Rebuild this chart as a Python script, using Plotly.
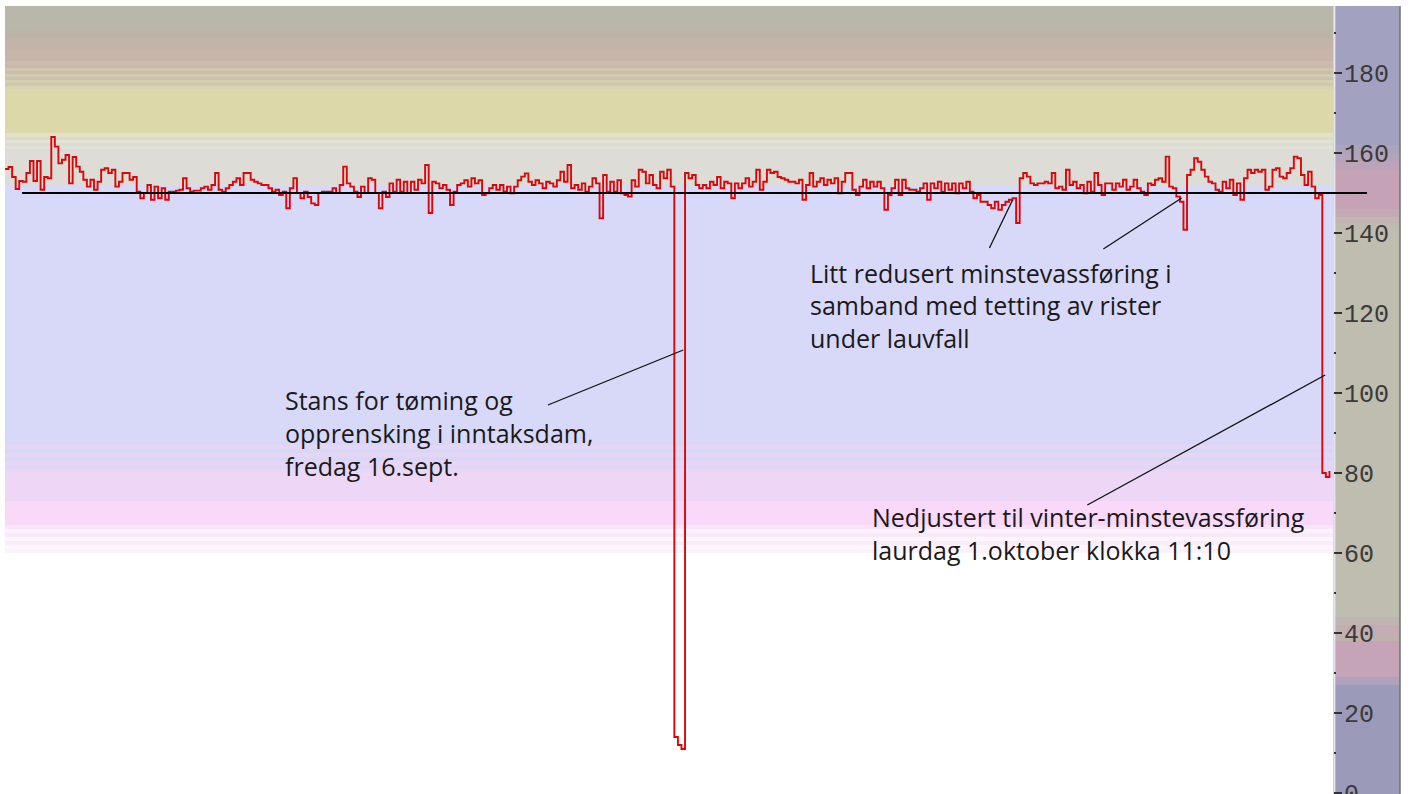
import plotly.graph_objects as go
import pandas as pd

# ---------------- data ----------------
START = pd.Timestamp('2022-08-31 15:10')
STEP_HOURS = 2

flow = [
    # 0-40
    156, 156.5, 154, 151, 153, 152.8, 155, 158, 153, 158, 150.8, 154, 153.7, 164, 161.6, 157.4, 158.3, 159.5, 152.4, 159,
    156.6, 155.3, 153.3, 151.6, 153.3, 150.8, 152.8, 155.8, 156.2, 155, 155.8, 151.6, 152.8, 155, 155, 153.3, 154, 150.3,
    148.7, 150, 152,
    # 41-82
    148.3, 151.6, 148.7, 151.2, 148.3, 150.3, 150.3, 150.6, 150.8, 153.7, 151.2, 150.3, 150.6, 150.6, 151.2, 151.6, 150.8,
    152, 155, 150.8, 150.3, 151.2, 152, 152.8, 153.7, 152, 155, 155, 153.3, 152.8, 152.4, 152, 152, 151.2, 150.3, 150.8,
    149.5, 150.3, 146.2, 151.2, 153.7, 150,
    # 83-124
    148.7, 150.3, 149, 147.4, 147, 150, 150.3, 150.3, 150.3, 151.2, 150, 152, 156.6, 152.4, 151.6, 150.3, 149, 151.6, 150,
    153.7, 153.3, 150, 146.2, 150.3, 149, 152.4, 150.3, 153.3, 150.3, 152.8, 150, 152.8, 150.8, 153.3, 152.4, 157, 145,
    152.8, 152.4, 151.2, 152, 150.8,
    # 125-187
    147, 150.3, 152, 152.4, 153.2, 151.6, 153.7, 152.4, 153.2, 149.5, 149.9, 151.2, 152, 150.8, 152, 150.3, 151.6, 149.9,
    151.6, 153.2, 154.1, 154.9, 152.8, 152, 153.2, 152.4, 151.2, 152.8, 152.4, 151.6, 153.2, 155.3, 152.8, 157, 151.2, 152,
    150.8, 152.4, 150.3, 151.6, 153.7, 152.4, 143.7, 154.5, 150.3, 152.8, 150.3, 153.2, 149.9, 149.5, 149.1, 153.2, 151.6,
    155.8, 155.3, 152.4, 154.5, 152, 151.2, 155.3, 153.7, 155.8, 151.6,
    # 188-190 (stop, 16 Sept)
    14, 12, 11,
    # 191-292
    155, 153.7, 154.5, 152, 151.2, 152, 151.2, 152.8, 152, 154, 151.2, 152.8, 152.4, 148.7, 152.4, 151.2, 152.4, 153.7,
    151.6, 152.8, 155.8, 150.8, 152.8, 155.8, 155, 155.3, 154, 153.7, 153.3, 152.8, 152.8, 152.4, 153.3, 148.3, 152, 155,
    151.6, 152.8, 153.7, 152, 153.3, 152.4, 153.7, 149.9, 152.8, 155, 155, 150.8, 149.5, 151.6, 153.3, 151.2, 152.8, 151.6,
    152.8, 151.2, 145.8, 149.5, 151.2, 153.3, 149.5, 153.3, 151.2, 150.8, 150.8, 150.3, 151.2, 152.4, 148.3, 152.4, 151.2,
    152.8, 150.3, 152.4, 150.8, 152.4, 149.9, 152.4, 151.2, 152.8, 150.3, 148.7, 149.5, 147.8, 147.8, 147, 146.2, 147.8,
    145.8, 147, 147.8, 148.3, 148.7, 142.5, 153.7, 155, 154.1, 152.4, 152, 152.4, 152.4, 152.8,
    # 293-369
    152.4, 155, 151.2, 151.6, 150.8, 155.8, 152, 152.8, 151.2, 152, 149.9, 152.8, 150.3, 155, 152, 149.5, 152.4, 152.4,
    150.8, 152.4, 151.6, 153.3, 150.8, 151.6, 153.3, 151.2, 150.3, 149.5, 152.4, 152, 153.3, 153.7, 152.8, 159.1, 151.6,
    151.2, 149.1, 147.8, 140.8, 154.5, 155.8, 158.7, 157.8, 155.8, 154.1, 152.8, 152.4, 150.8, 150.3, 152.8, 151.2, 153.3,
    149.5, 152.4, 148.3, 153.7, 155.8, 155, 155.8, 155.3, 155.8, 150.8, 151.6, 155.8, 156.2, 154.1, 153.7, 155, 156.2,
    159.1, 158.7, 154.5, 152, 155.3, 151.6, 148.7, 149.5,
    # 370-372 (winter minimum from 1 Oct 11:10)
    80, 79, 80.5,
]

reference_level = 150
y_ticks = [0, 20, 40, 60, 80, 100, 120, 140, 160, 180]

# background bands inside the plot (value ranges)
plot_bands = [
    (191, 197.5, '#b9b7a9'), (188.5, 191, '#bdb4a8'), (186, 188.5, '#c3b3a9'), (183, 186, '#c8b5aa'),
    (182, 183, '#cdbcae'), (181.25, 182, '#c9b9aa'), (180.5, 181.25, '#d2c6b0'), (179.75, 180.5, '#c9bdab'),
    (179, 179.75, '#d4cab2'), (178.25, 179, '#cbc2ad'), (177.5, 178.25, '#d6cfb3'), (176.75, 177.5, '#cec8ae'),
    (176, 176.75, '#d8d3b0'),
    (165, 176, '#dcd8a9'),
    (164, 165, '#e3e0cc'), (163.25, 164, '#dddbc6'), (162.5, 163.25, '#e4e2d4'), (161.75, 162.5, '#dcdbd0'),
    (161, 161.75, '#e3e2da'),
    (152, 161, '#dddcd7'),
    (88, 152, '#d8d8f8'),
    (87, 88, '#dcd6f6'), (86, 87, '#e4d6f6'), (85, 86, '#dad6f6'), (84, 85, '#e6d6f5'), (83, 84, '#dcd6f6'),
    (82, 83, '#e8d6f6'), (81, 82, '#e0d6f6'), (80, 81, '#ead6f6'),
    (73, 80, '#eed6f6'),
    (67, 73, '#f9d8f9'),
    (66, 67, '#fbe4fa'), (65, 66, '#fdf2fc'), (64, 65, '#fbe8fa'), (63, 64, '#fef6fd'), (62, 63, '#fcecfb'),
    (61, 62, '#fef8fe'), (60, 61, '#fdf1fc'),
]

# colour bands of the axis strip on the right
strip_bands = [
    (162, 197.5, '#a2a2c0'), (160, 162, '#aca4bc'), (158, 160, '#b4a4ba'), (156, 158, '#bca4b8'),
    (146, 156, '#c6a2b6'), (144, 146, '#c4aab4'), (142.5, 144, '#c2b4b0'), (141, 142.5, '#bfbaaf'),
    (44, 141, '#bebdaf'), (42, 44, '#c0b4b0'), (40, 42, '#c4acb4'), (38, 40, '#c0b0b0'),
    (29, 38, '#c4a4b6'), (27, 29, '#aea2bc'), (-1, 27, '#9b9bb9'),
]

# annotation text lines: (hours from start, value, text)
text_lines = [
    (156.2, 98.25, 'Stans for tøming og'),
    (156.2, 90.0, 'opprensking i inntaksdam,'),
    (156.2, 81.75, 'fredag 16.sept.'),
    (451.1, 130.0, 'Litt redusert minstevassføring i'),
    (451.1, 122.0, 'samband med tetting av rister'),
    (451.1, 113.75, 'under lauvfall'),
    (486.0, 69.0, 'Nedjustert til vinter-minstevassføring'),
    (486.0, 60.75, 'laurdag 1.oktober klokka 11:10'),
]
# leader lines: (h0, v0, h1, v1)
leaders = [
    (305, 97, 381, 110.75),
    (553, 136.25, 566, 148.25),
    (617, 136, 661, 148.75),
    (608, 72, 741.6, 104.5),
]


def T(h):
    return START + pd.Timedelta(hours=h)


times = [T(STEP_HOURS * i) for i in range(len(flow))]

# ---------------- figure ----------------
W, H = 1410, 794
ML, MR, MT, MB = 5, 77, 6, 0
plot_w = W - ML - MR
strip_right = (1400 - ML) / plot_w

fig = go.Figure()
fig.add_trace(go.Scatter(
    x=times, y=flow, mode='lines', line=dict(color='#d80808', width=1.9, shape='hv'),
    hoverinfo='skip', showlegend=False,
))

shapes = []
for y0, y1, c in plot_bands:
    shapes.append(dict(type='rect', xref='paper', yref='y', x0=0, x1=1, y0=y0, y1=y1,
                       fillcolor=c, line=dict(width=0), layer='below'))
for y0, y1, c in strip_bands:
    shapes.append(dict(type='rect', xref='paper', yref='y', x0=1, x1=strip_right, y0=y0, y1=y1,
                       fillcolor=c, line=dict(width=0), layer='below'))
# strip edges
shapes.append(dict(type='line', xref='paper', yref='paper', x0=1.001, x1=1.001, y0=0, y1=1,
                   line=dict(color='#e8e8f0', width=2), layer='below'))
shapes.append(dict(type='line', xref='paper', yref='paper', x0=strip_right, x1=strip_right, y0=0, y1=1,
                   line=dict(color='#707070', width=1.5), layer='below'))
# reference level line
shapes.append(dict(type='line', xref='paper', yref='y', x0=(22 - ML) / plot_w, x1=(1367 - ML) / plot_w,
                   y0=reference_level, y1=reference_level, line=dict(color='black', width=2), layer='above'))
for h0, v0, h1, v1 in leaders:
    shapes.append(dict(type='line', xref='x', yref='y', x0=T(h0), x1=T(h1), y0=v0, y1=v1,
                       line=dict(color='#111111', width=1.3), layer='above'))

annotations = []
for h, v, txt in text_lines:
    annotations.append(dict(x=T(h), y=v, xref='x', yref='y', text=txt, showarrow=False,
                            xanchor='left', yanchor='middle',
                            font=dict(family='Open Sans', size=25, color='#1a1a1a')))

fig.update_layout(
    width=W, height=H,
    margin=dict(l=ML, r=MR, t=MT, b=MB, autoexpand=False),
    paper_bgcolor='white', plot_bgcolor='white',
    shapes=shapes, annotations=annotations,
    showlegend=False,
    xaxis=dict(visible=False, range=[T(0), T(746)], automargin=False),
    yaxis=dict(
        range=[-0.25, 196.75], side='right', showgrid=False, zeroline=False, showline=False,
        automargin=False,
        tickmode='array', tickvals=y_ticks, ticktext=[str(t) for t in y_ticks],
        ticks='outside', ticklen=8, tickwidth=1.5, tickcolor='#333333',
        ticklabelstandoff=-3, ticklabeloverflow='allow',
        tickfont=dict(family='Liberation Mono', size=25, color='#3a3a3a'),
        minor=dict(dtick=10, ticks='outside', ticklen=2, tickwidth=2, tickcolor='#333333'),
    ),
)

fig.write_html('out.html', config={'displayModeBar': False},
               post_script="document.body.style.margin='0';document.body.style.overflow='hidden';")
